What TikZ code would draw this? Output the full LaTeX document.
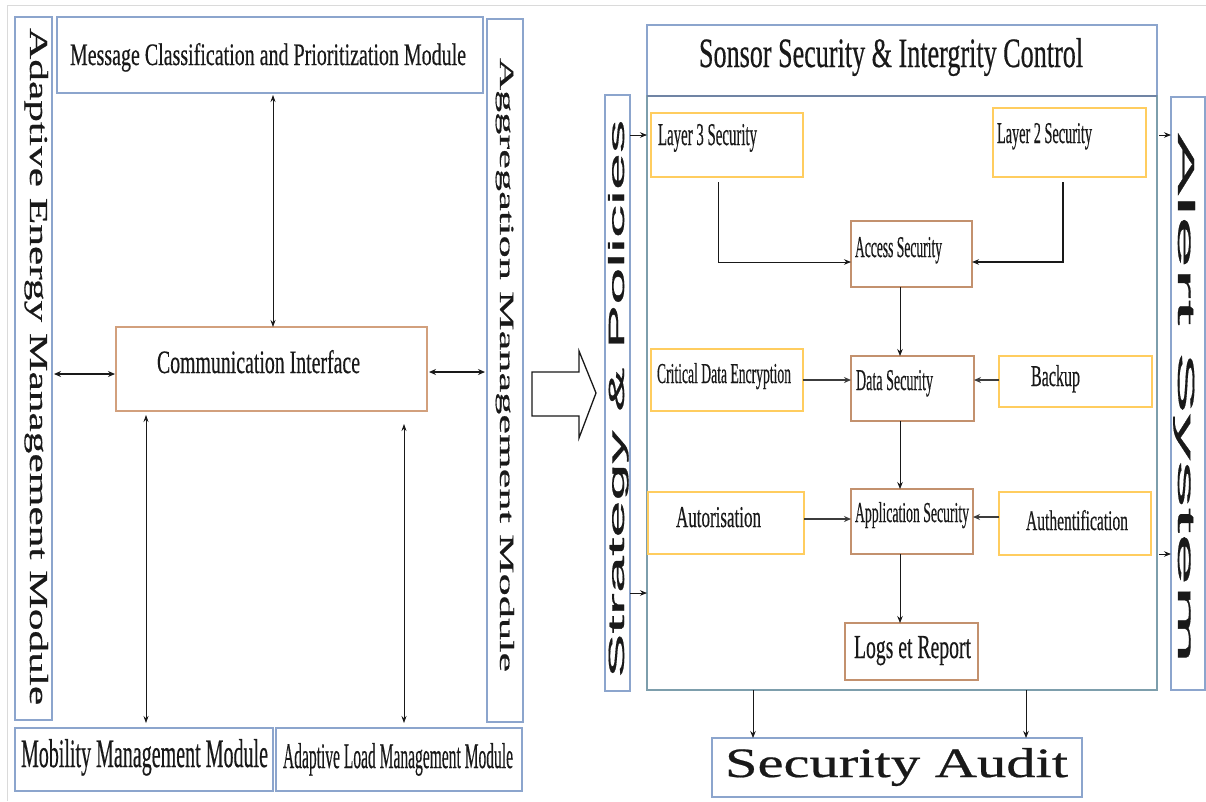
\documentclass[tikz,border=0pt]{standalone}
\usepackage{fontspec}
\usepackage{graphicx}
\setmainfont{Liberation Serif}
\newfontfamily\heavy[FakeBold=0.5]{Liberation Serif}
\newfontfamily\sansalt[FakeBold=0.6]{Liberation Sans}
\usetikzlibrary{arrows.meta,calc}
\definecolor{bluebd}{RGB}{140,165,205}
\definecolor{mainbd}{RGB}{125,158,172}
\definecolor{brownbd}{RGB}{195,145,110}
\definecolor{orgbd}{RGB}{210,160,125}
\definecolor{yelbd}{RGB}{255,205,95}
\definecolor{framegray}{RGB}{218,218,218}
\definecolor{inkc}{RGB}{25,25,25}
\newcommand{\fx}[3]{\resizebox{#1pt}{#2pt}{\heavy #3}}
\begin{document}
\begin{tikzpicture}[x=1pt,y=-1pt,
  box/.style={inner sep=0pt, outer sep=0pt, anchor=north west},
  bluebox/.style={box, draw=bluebd, line width=1.3pt},
  mainbox/.style={box, draw=mainbd, line width=1.5pt},
  brownbox/.style={box, draw=brownbd, line width=1.6pt},
  orgbox/.style={box, draw=orgbd, line width=1.6pt},
  yelbox/.style={box, draw=yelbd, line width=1.6pt},
  lbl/.style={inner sep=0pt, outer sep=0pt, text=inkc, anchor=base west},
  arr/.style={-{Stealth[length=7pt,width=5.5pt]}, line width=0.9pt, draw=inkc},
  thickarr/.style={-{Stealth[length=7pt,width=6pt]}, line width=1.8pt, draw=inkc!85},
  dbl/.style={{Stealth[length=7pt,width=5pt]}-{Stealth[length=7pt,width=5pt]}, line width=0.7pt, draw=inkc},
  dblthick/.style={{Stealth[length=7pt,width=6pt]}-{Stealth[length=7pt,width=6pt]}, line width=1.5pt, draw=inkc}
]
\useasboundingbox (0,0) rectangle (1206,801);
\fill[white] (0,0) rectangle (1206,801);
% image frame
\draw[framegray, line width=1pt] (7,801) -- (7,5) -- (1206,5);

% ---------- left panel ----------
\node[bluebox, minimum width=37pt, minimum height=703pt] (ae) at (15,17) {};
\node[bluebox, minimum width=426pt, minimum height=76pt] (mc) at (57,17) {};
\node[bluebox, minimum width=36pt, minimum height=703pt] (agg) at (487,19) {};
\node[orgbox, minimum width=311pt, minimum height=84pt] (ci) at (116,327) {};
\node[bluebox, minimum width=258pt, minimum height=63pt] (mob) at (15,728) {};
\node[bluebox, minimum width=246pt, minimum height=63pt] (alm) at (276,728) {};

\node[lbl, rotate=-90] (t-ae) at (30,28) {\fx{677}{18}{Adaptive Energy Management Module}};
\node[lbl] (t-mc) at (70,65) {\fx{396}{22}{Message Classification and Prioritization Module}};
\node[lbl, rotate=-90] (t-agg) at (500,58) {\fx{614}{14}{Aggregation Management Module}};
\node[lbl] (t-ci) at (157,373) {\fx{203}{23}{Communication Interface}};
\node[lbl] (t-mob) at (21,767) {\fx{247}{28}{Mobility Management Module}};
\node[lbl] (t-alm) at (283,768) {\fx{230}{25}{Adaptive Load Management Module}};

\draw[dbl] ($(mc.south -| 273,0)+(0,2)$) -- (ci.north -| 273,0);
\draw[dblthick] ($(ae.east |- 0,374)+(2,0)$) -- ($(ci.west |- 0,374)+(-1,0)$);
\draw[dblthick] ($(ci.east |- 0,372)+(2,0)$) -- ($(agg.west |- 0,372)+(-2,0)$);
\draw[dbl] ($(ci.south -| 146,0)+(0,4)$) -- ($(mob.north -| 146,0)+(0,-5)$);
\draw[dbl] ($(ci.south -| 404,0)+(0,13)$) -- ($(alm.north -| 404,0)+(0,-5)$);

% hollow arrow
\draw[inkc, line width=1.3pt, fill=white, line join=miter]
  (532,372) -- (579,372) -- (579,351) -- (596,393) -- (579,438) -- (579,416) -- (532,416) -- cycle;

% ---------- right panel ----------
\node[bluebox, minimum width=510pt, minimum height=71pt] (title) at (647,25) {};
\node[mainbox, minimum width=510pt, minimum height=594pt] (main) at (647,96) {};
\draw[bluebd!80!black, line width=1.8pt] (main.north west) -- (main.north east);
\node[bluebox, minimum width=25pt, minimum height=596pt] (sp) at (605,95) {};
\node[bluebox, minimum width=34pt, minimum height=593pt] (alert) at (1171,97) {};

\node[yelbox, minimum width=152pt, minimum height=64pt] (l3) at (651,113) {};
\node[yelbox, minimum width=153pt, minimum height=69pt] (l2) at (993,108) {};
\node[brownbox, minimum width=121pt, minimum height=66pt] (acc) at (851,221) {};
\node[yelbox, minimum width=152pt, minimum height=62pt] (cde) at (651,349) {};
\node[brownbox, minimum width=123pt, minimum height=65pt] (ds) at (851,356) {};
\node[yelbox, minimum width=153pt, minimum height=51pt] (bk) at (999,356) {};
\node[yelbox, minimum width=156pt, minimum height=62pt] (au) at (648,492) {};
\node[brownbox, minimum width=122pt, minimum height=65pt] (as) at (851,489) {};
\node[yelbox, minimum width=152pt, minimum height=63pt] (auth) at (999,492) {};
\node[brownbox, minimum width=133pt, minimum height=57pt] (logs) at (845,623) {};
\node[bluebox, minimum width=370pt, minimum height=59pt] (audit) at (712,738) {};

\node[lbl] (t-title) at (699,67) {\fx{384}{29}{Sonsor Security \& Intergrity Control}};
\node[lbl, rotate=90] (t-sp) at (624,678) {\resizebox{558pt}{16pt}{\sansalt Strategy \& Policies}};
\node[lbl, rotate=-90] (t-alert) at (1178,133) {\resizebox{530pt}{17pt}{\sansalt Alert System}};
\node[lbl] (t-l3) at (658,145) {\fx{99}{21}{Layer 3 Security}};
\node[lbl] (t-l2) at (997,143) {\fx{95}{20}{Layer 2 Security}};
\node[lbl] (t-acc) at (855,257) {\fx{87}{20}{Access Security}};
\node[lbl] (t-cde) at (657,383) {\fx{134}{20}{Critical Data Encryption}};
\node[lbl] (t-ds) at (856,390) {\fx{77}{20}{Data Security}};
\node[lbl] (t-bk) at (1031,386) {\fx{49}{21}{Backup}};
\node[lbl] (t-au) at (676,527) {\fx{85}{20}{Autorisation}};
\node[lbl] (t-as) at (855,522) {\fx{114}{20}{Application Security}};
\node[lbl] (t-auth) at (1026,530) {\fx{102}{20}{Authentification}};
\node[lbl] (t-logs) at (854,658) {\fx{117}{22}{Logs et Report}};
\node[lbl] (t-audit) at (725,777) {\fx{343}{29}{Security Audit}};

% connectors
\draw[arr] (sp.east |- 0,135) -- (main.west |- 0,135);
\draw[arr] (sp.east |- 0,593) -- (main.west |- 0,593);
\draw[arr] ($(main.east |- 0,135)+(2,0)$) -- (alert.west |- 0,135);
\draw[arr] ($(main.east |- 0,554)+(2,0)$) -- (alert.west |- 0,554);

\draw[arr] ($(l3.south -| 718,0)+(0,5)$) |- (acc.west |- 0,262);
\draw[arr, line width=1.3pt] ($(l2.south -| 1063,0)+(0,5)$) |- (acc.east |- 0,262);
\draw[arr] (acc.south -| 900,0) -- (ds.north -| 900,0);
\draw[thickarr] (cde.east |- 0,380) -- (ds.west |- 0,380);
\draw[thickarr] (bk.west |- 0,380) -- (ds.east |- 0,380);
\draw[arr] (ds.south -| 900,0) -- (as.north -| 900,0);
\draw[thickarr] (au.east |- 0,519) -- (as.west |- 0,519);
\draw[thickarr] (auth.west |- 0,517) -- (as.east |- 0,517);
\draw[arr] (as.south -| 900,0) -- (logs.north -| 900,0);
\draw[arr] (main.south -| 753,0) -- (audit.north -| 753,0);
\draw[arr] (main.south -| 1026,0) -- (audit.north -| 1026,0);
\end{tikzpicture}
\end{document}
